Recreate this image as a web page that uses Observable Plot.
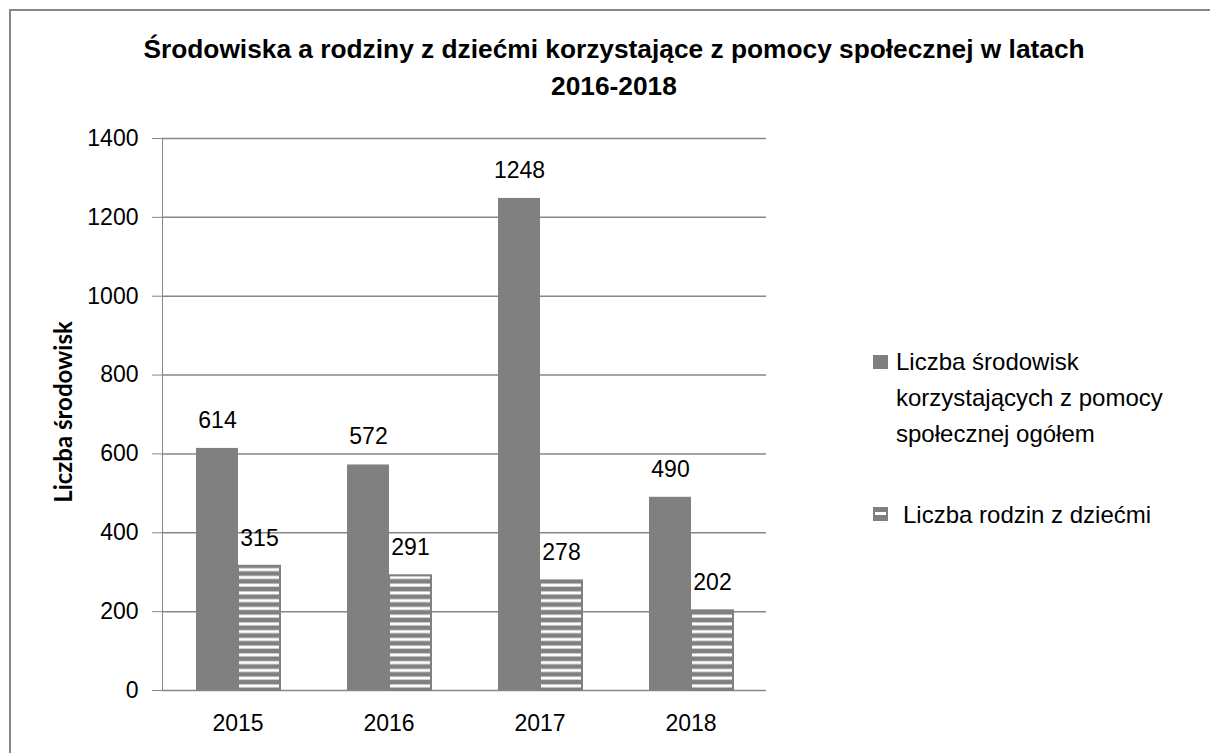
<!DOCTYPE html>
<html><head><meta charset="utf-8">
<script src="https://cdn.jsdelivr.net/npm/d3@7"></script>
<script src="https://cdn.jsdelivr.net/npm/@observablehq/plot@0.6"></script>
<style>
body{margin:0;background:#fff;}
#wrap{position:relative;width:1210px;height:753px;overflow:hidden;background:#fff;}
#frame{position:absolute;left:9px;top:9px;width:1300px;height:900px;border:2px solid #868686;box-sizing:border-box;}
#chart{position:absolute;left:0;top:0;}
#chart svg text{font-family:"Liberation Sans",Arial,sans-serif;font-size:23px;fill:#000;}
#title{position:absolute;left:18px;width:1192px;top:31px;text-align:center;font:bold 26.3px "Liberation Sans",Arial,sans-serif;line-height:37px;color:#000;}
#ylabel{position:absolute;left:62px;top:412px;transform:translate(-50%,-50%) rotate(-90deg);white-space:nowrap;font:bold 24px Lato,"Liberation Sans",sans-serif;color:#000;}
.sw{position:absolute;width:15px;height:14px;background:#808080;}
.sw2{background:linear-gradient(#808080 0 5px,#fff 5px 8px,#808080 8px);box-shadow:inset 0 0 0 2px #808080;}
.lt{position:absolute;font:24px "Liberation Sans",Arial,sans-serif;line-height:36px;color:#000;white-space:nowrap;}
</style>
</head><body>
<div id="wrap">
<div id="frame"></div>
<div id="chart"></div>
<div id="title">Środowiska a rodziny z dziećmi korzystające z pomocy społecznej w latach<br>2016-2018</div>
<div id="ylabel">Liczba środowisk</div>
<div class="sw" style="left:873px;top:355px;"></div>
<div class="lt" style="left:896px;top:344px;">Liczba środowisk<br>korzystających z pomocy<br>społecznej ogółem</div>
<div class="sw sw2" style="left:873px;top:507px;"></div>
<div class="lt" style="left:903px;top:497px;">Liczba rodzin z dziećmi</div>
</div>
<script>
const years = [2015, 2016, 2017, 2018];
const seriesNames = ["Liczba środowisk korzystających z pomocy społecznej ogółem", "Liczba rodzin z dziećmi"];
const totalValues = [614, 572, 1248, 490];
const familyValues = [315, 291, 278, 202];
const yTicks = [0, 200, 400, 600, 800, 1000, 1200, 1400];

const data = years.flatMap((yr, i) => [
  {year: yr, series: seriesNames[0], value: totalValues[i]},
  {year: yr, series: seriesNames[1], value: familyValues[i]}
]);

const chart = Plot.plot({
  width: 1210, height: 753,
  marginLeft: 162, marginRight: 444, marginTop: 138, marginBottom: 63,
  style: {background: "transparent", color: "#868686", fontSize: "23px", overflow: "visible"},
  facet: {data, x: "year"},
  fx: {domain: years, padding: 0, tickSize: 0, tickPadding: 24, label: null, tickFormat: d => String(d)},
  x: {domain: seriesNames, paddingInner: 0, paddingOuter: 0.77, axis: null},
  y: {domain: [0, 1400], ticks: yTicks, tickSize: 10, tickPadding: 14, line: true, label: null, tickFormat: d => String(d)},
  marks: [
    Plot.ruleY(yTicks, {stroke: "#868686", strokeWidth: 1.5}),
    Plot.barY(data, {filter: d => d.series === seriesNames[0], x: "series", y: "value", fill: "#808080"}),
    Plot.barY(data, {filter: d => d.series === seriesNames[1], x: "series", y: "value", fill: "url(#stripes)", stroke: "#808080", strokeWidth: 2}),
    Plot.text(data, {x: "series", y: "value", text: d => String(d.value), dy: -28, fill: "#000"})
  ]
});
const svg = chart.tagName.toLowerCase() === "svg" ? chart : chart.querySelector("svg");
svg.querySelectorAll(":scope > text").forEach(t => { if (t.textContent.includes("\u26a0")) t.remove(); });
const defs = document.createElementNS("http://www.w3.org/2000/svg", "defs");
defs.innerHTML = '<pattern id="stripes" patternUnits="userSpaceOnUse" width="10" height="7.75"><rect width="10" height="7.75" fill="#808080"/><rect y="2.4" width="10" height="3" fill="#ffffff"/></pattern>';
svg.insertBefore(defs, svg.firstChild);
document.getElementById("chart").appendChild(chart);
</script>
</body></html>
